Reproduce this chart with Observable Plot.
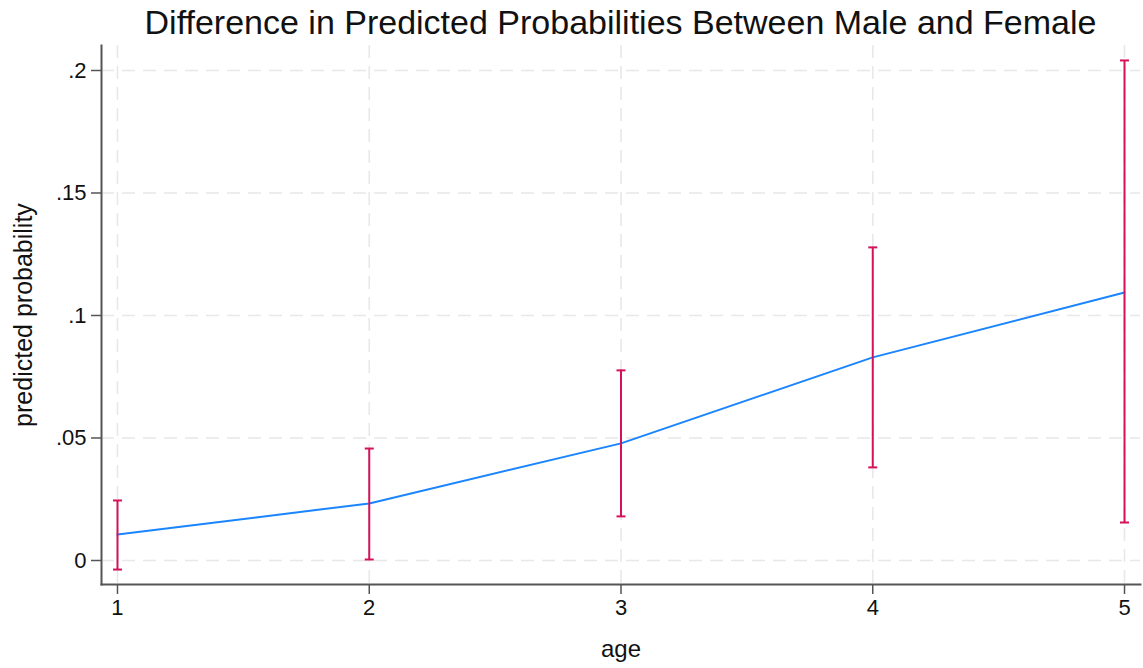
<!DOCTYPE html>
<html>
<head>
<meta charset="utf-8">
<script src="https://cdn.jsdelivr.net/npm/d3@7"></script>
<script src="https://cdn.jsdelivr.net/npm/@observablehq/plot@0.6"></script>
<style>
  html, body { margin: 0; padding: 0; background: #fff; }
  body { width: 1143px; height: 668px; overflow: hidden; font-family: "Liberation Sans", Arial, sans-serif; }
  #title { box-sizing: border-box; height: 40px; padding-left: 101px; padding-right: 3px; text-align: center;
           font-size: 34px; line-height: 44px; color: #111; white-space: nowrap; }
  svg { display: block; }
</style>
</head>
<body>
<div id="title">Difference in Predicted Probabilities Between Male and Female</div>
<div id="chart"></div>
<script>
const ages = [1, 2, 3, 4, 5];
const estimates = [0.0106, 0.0233, 0.0478, 0.0829, 0.1094];
const lower = [-0.0037, 0.0004, 0.0180, 0.0380, 0.0155];
const upper = [0.0245, 0.0457, 0.0776, 0.1278, 0.2041];
const yTicks = [0, 0.05, 0.1, 0.15, 0.2];
const yTickLabels = ["0", ".05", ".1", ".15", ".2"];
const xLabel = "age";
const yLabel = "predicted probability";

const data = ages.map((a, i) => ({age: a, est: estimates[i], lo: lower[i], hi: upper[i]}));

const blue = "#1a85ff";
const red = "#d41159";
const axisColor = "#555";
const gridColor = "#e8e8e8";

const cap = { draw(context) { context.moveTo(-4.5, 0); context.lineTo(4.5, 0); } };

const chart = Plot.plot({
  width: 1143,
  height: 628,
  marginTop: 5,
  marginBottom: 84,
  marginLeft: 101,
  marginRight: 3,
  style: { fontFamily: "'Liberation Sans', Arial, sans-serif", background: "#fff" },
  x: { domain: [0.9365, 5.0635] },
  y: { domain: [-0.0098, 0.2102] },
  marks: [
    Plot.gridY(yTicks, { stroke: gridColor, strokeOpacity: 1, strokeWidth: 1.6, strokeDasharray: "13,8" }),
    Plot.gridX(ages, { stroke: gridColor, strokeOpacity: 1, strokeWidth: 1.6, strokeDasharray: "13,8" }),
    Plot.line(data, { x: "age", y: "est", stroke: blue, strokeWidth: 2 }),
    Plot.ruleX(data, { x: "age", y1: "lo", y2: "hi", stroke: red, strokeWidth: 2 }),
    Plot.dot(data, { x: "age", y: "lo", symbol: cap, stroke: red, strokeWidth: 2, fill: "none" }),
    Plot.dot(data, { x: "age", y: "hi", symbol: cap, stroke: red, strokeWidth: 2, fill: "none" }),
    Plot.frame({ anchor: "left", stroke: axisColor, strokeWidth: 2 }),
    Plot.frame({ anchor: "bottom", stroke: axisColor, strokeWidth: 2 }),
    Plot.axisY(yTicks, {
      tickFormat: (d, i) => yTickLabels[i],
      tickSize: 10, tickPadding: 5, stroke: axisColor, strokeWidth: 1.5,
      fontSize: 22, fill: "#111", label: null
    }),
    Plot.axisY({
      ticks: [], tickSize: 0,
      fontSize: 25, fill: "#111",
      label: yLabel, labelAnchor: "center", labelArrow: "none", labelOffset: 87
    }),
    Plot.axisX(ages, {
      tickFormat: d => String(d),
      tickSize: 10, tickPadding: 5, stroke: axisColor, strokeWidth: 1.5,
      fontSize: 22, fill: "#111", label: null
    }),
    Plot.axisX({
      ticks: [], tickSize: 0,
      fontSize: 24, fill: "#111",
      label: xLabel, labelAnchor: "center", labelArrow: "none", labelOffset: 72
    })
  ]
});
document.getElementById("chart").appendChild(chart);
</script>
</body>
</html>
